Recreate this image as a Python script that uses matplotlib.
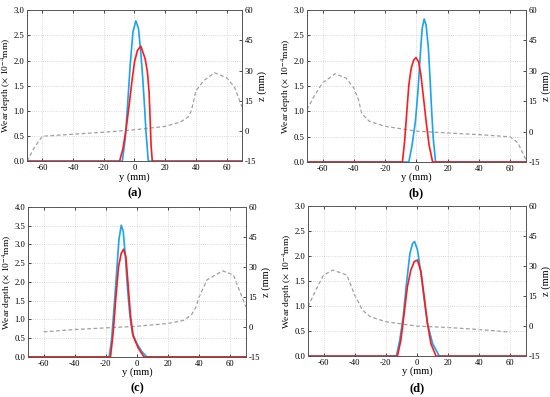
import matplotlib.pyplot as plt
import numpy as np

plt.rcParams['font.family'] = ['Liberation Serif', 'DejaVu Serif']
plt.rcParams['mathtext.fontset'] = 'stix'
plt.rcParams['axes.unicode_minus'] = False

# wear depth profiles (y in mm, depth in 1e-4 mm)
a_blue_y = [-70, -7.9, -6.0, -4.5, -2.8, -1.0, 0.9, 2.6, 4.1, 5.4, 6.5, 7.5, 9.0, 70]
a_blue_w = [0, 0, 0.45, 1.11, 1.91, 2.57, 2.79, 2.64, 2.17, 1.64, 1.11, 0.58, 0, 0]
a_red_y = [-70, -9.7, -7.5, -5.4, -3.2, -1.7, 0, 1.9, 4.1, 6.9, 8.4, 9.5, 10.1, 10.8, 11.6, 70]
a_red_w = [0, 0, 0.25, 0.65, 1.18, 1.58, 1.97, 2.2, 2.29, 2.04, 1.78, 1.38, 0.91, 0.32, 0, 0]
a_z_y = [-70, -65, -60, -40, -20, 0, 20, 30, 35, 37, 40, 45, 52, 60, 65, 70]
a_z = [-15, -8, -2.6, -1.6, -0.6, 0.6, 2.3, 4.5, 7, 10, 20, 25, 29, 26.5, 22, 12]

b_blue_y = [-70, -4.8, -2.7, -0.6, 1.0, 2.5, 3.75, 5.0, 6.25, 7.7, 8.75, 9.8, 10.8, 12.3, 70]
b_blue_w = [0, 0, 0.34, 0.80, 1.39, 2.11, 2.64, 2.82, 2.70, 2.24, 1.65, 1.0, 0.47, 0, 0]
b_red_y = [-70, -8.9, -7.5, -6.25, -4.8, -3.3, -1.7, -0.2, 1.4, 2.9, 4.6, 6.25, 8.1, 10.4, 70]
b_red_w = [0, 0, 0.41, 0.93, 1.52, 1.85, 2.01, 2.06, 1.98, 1.72, 1.26, 0.80, 0.34, 0, 0]
b_z_y = [-70, -65, -60, -52, -45, -40, -37, -35, -30, -20, 0, 20, 40, 60, 65, 70]
b_z = [10.8, 18, 24, 28.5, 26.4, 21.5, 15.7, 9, 5, 2.6, 0.2, -0.7, -1.5, -2.6, -5.6, -13.8]

c_blue_y = [-70, -17.9, -16.3, -14.8, -13.1, -11.6, -10.1, -8.8, -7.3, -6.0, -4.5, -3.0, -0.2, 3.0, 6.3, 70]
c_blue_w = [0, 0, 0.46, 1.26, 2.23, 3.12, 3.51, 3.34, 2.59, 1.79, 1.08, 0.64, 0.37, 0.15, 0, 0]
c_red_y = [-70, -17.0, -15.3, -13.5, -11.8, -10.1, -8.6, -7.1, -5.6, -4.1, -2.4, 0.8, 4.5, 70]
c_red_w = [0, 0, 0.64, 1.61, 2.41, 2.76, 2.87, 2.67, 1.88, 1.08, 0.55, 0.24, 0, 0]
c_z_y = [-60, -40, -20, 0, 20, 30, 35, 38, 40, 45, 55, 62, 70]
c_z = [-2.5, -1.3, -0.5, 0.3, 1.7, 3.3, 6, 10, 15, 23.5, 28, 26, 10]

d_blue_y = [-70, -13.2, -11.0, -8.8, -6.7, -4.5, -2.8, -1.5, 0.4, 2.6, 4.7, 6.8, 10.1, 14.4, 70]
d_blue_w = [0, 0, 0.32, 0.79, 1.45, 2.05, 2.25, 2.29, 2.12, 1.65, 1.12, 0.65, 0.25, 0, 0]
d_red_y = [-70, -12.5, -10.3, -8.2, -6.1, -3.9, -1.7, 0.4, 2.6, 4.7, 6.8, 9.0, 12.3, 70]
d_red_w = [0, 0, 0.32, 0.85, 1.39, 1.72, 1.89, 1.92, 1.69, 1.19, 0.65, 0.25, 0, 0]
d_z_y = [-70, -65, -60, -54, -45, -40, -35, -30, -20, 0, 20, 40, 60]
d_z = [9.7, 18, 25.5, 28, 25.5, 15.5, 8, 4.7, 2.2, 0, -0.7, -1.7, -3]

panels = [
    ('(a)', [0.049, 0.594, 0.391, 0.380], 3.0, a_blue_y, a_blue_w, a_red_y, a_red_w, a_z_y, a_z),
    ('(b)', [0.558, 0.592, 0.398, 0.383], 3.0, b_blue_y, b_blue_w, b_red_y, b_red_w, b_z_y, b_z),
    ('(c)', [0.051, 0.101, 0.396, 0.378], 4.0, c_blue_y, c_blue_w, c_red_y, c_red_w, c_z_y, c_z),
    ('(d)', [0.560, 0.103, 0.396, 0.378], 3.0, d_blue_y, d_blue_w, d_red_y, d_red_w, d_z_y, d_z),
]

fig = plt.figure(figsize=(5.5, 3.97), dpi=100)
for label, pos, ymax, by, bw, ry, rw, zy, z in panels:
    ax = fig.add_axes(pos)
    ax2 = ax.twinx()
    ax2.plot(zy, z, color='#a0a0a0', lw=0.9, dashes=(3, 2))
    ax2.set_ylim(-15, 60)
    ax2.set_yticks([-15, 0, 15, 30, 45, 60])
    ax2.set_ylabel('z (mm)', fontsize=7.5, rotation=90, labelpad=1)
    ax2.tick_params(labelsize=6.2, direction='in', length=2, width=0.5, pad=2)

    ax.set_zorder(ax2.get_zorder() + 1)
    ax.patch.set_visible(False)
    ax.plot(by, bw, color='#1aa3f0', lw=1.2)
    ax.plot(ry, rw, color='#ff1a1a', lw=1.2)
    ax.set_xlim(-70, 70)
    ax.set_ylim(0, ymax)
    ax.set_xticks(np.arange(-60, 61, 20))
    ax.set_yticks(np.arange(0, ymax + 0.01, 0.5))
    ax.yaxis.set_major_formatter(plt.FormatStrFormatter('%.1f'))
    ax.grid(True, ls=':', color='#cccccc', lw=0.6)
    ax.tick_params(labelsize=6.2, direction='in', length=2, width=0.5, pad=2, top=True)
    ax.set_xlabel('y (mm)', fontsize=7.5, labelpad=0)
    ax.set_ylabel(r'Wear depth ($\times$ 10$^{-4}$mm)', fontsize=6.8, labelpad=0.5)
    for s in list(ax.spines.values()) + list(ax2.spines.values()):
        s.set_linewidth(0.6)
        s.set_color('#555555')
    cx = pos[0] + pos[2] / 2
    fig.text(cx, pos[1] - 0.08, label, ha='center', va='center',
             fontsize=9, fontweight='bold')

fig.savefig('out.png', dpi=100)
